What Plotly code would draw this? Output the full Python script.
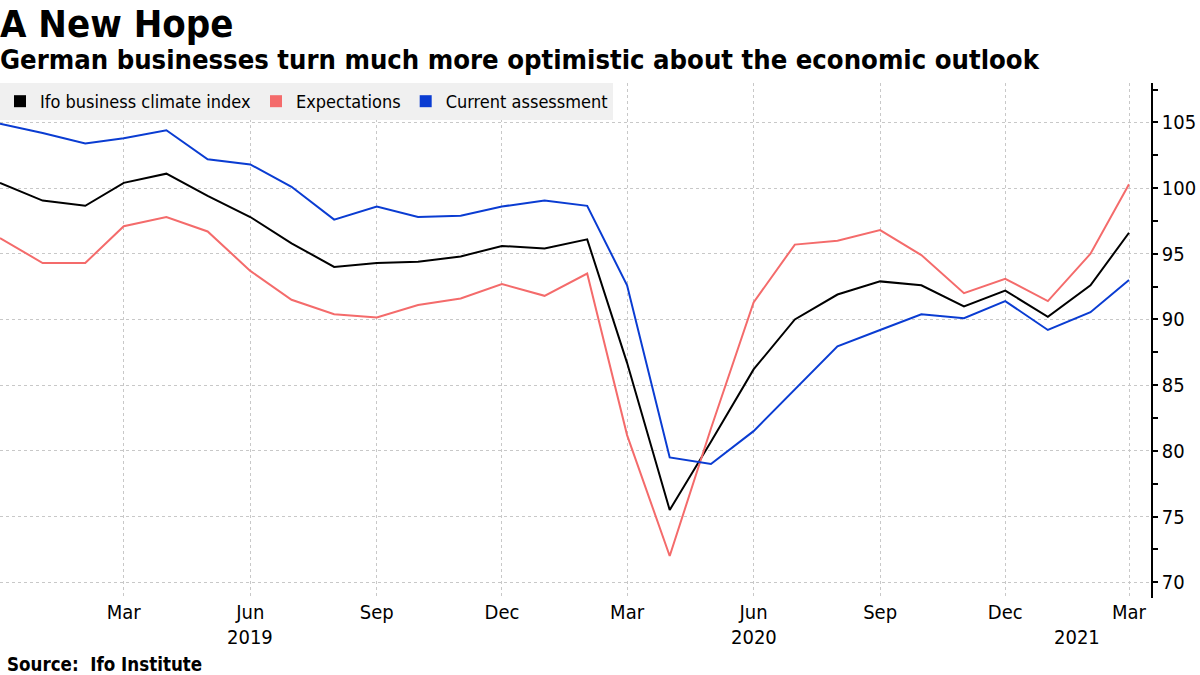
import plotly.graph_objects as go

months = [
    "2018-12-01",
    "2019-01-01", "2019-02-01", "2019-03-01", "2019-04-01", "2019-05-01", "2019-06-01",
    "2019-07-01", "2019-08-01", "2019-09-01", "2019-10-01", "2019-11-01", "2019-12-01",
    "2020-01-01", "2020-02-01", "2020-03-01", "2020-04-01", "2020-05-01", "2020-06-01",
    "2020-07-01", "2020-08-01", "2020-09-01", "2020-10-01", "2020-11-01", "2020-12-01",
    "2021-01-01", "2021-02-01", "2021-03-01",
]

climate = [100.4, 99.05, 98.65, 100.4, 101.1, 99.4, 97.8, 95.8, 94.0, 94.3, 94.4, 94.8, 95.6,
           95.4, 96.1, 86.7, 75.5, 80.7, 86.2, 90.0, 91.9, 92.9, 92.6, 91.0, 92.2,
           90.2, 92.6, 96.6]
expectations = [96.2, 94.3, 94.3, 97.1, 97.8, 96.7, 93.7, 91.5, 90.4, 90.15, 91.1, 91.6, 92.7,
                91.8, 93.5, 81.2, 72.0, 81.7, 91.3, 95.7, 96.0, 96.8, 94.9, 92.0, 93.1,
                91.4, 95.0, 100.3]
current = [104.9, 104.2, 103.4, 103.8, 104.4, 102.2, 101.8, 100.1, 97.6, 98.6, 97.8, 97.9, 98.6,
           99.05, 98.65, 92.6, 79.5, 79.0, 81.5, 84.65, 87.95, 89.2, 90.4, 90.1, 91.4,
           89.2, 90.55, 93.0]

series_names = ["Ifo business climate index", "Expectations", "Current assessment"]
series_colors = ["#000000", "#f46b6b", "#0a3cd2"]

tick_dates = ["2018-12-01", "2019-03-01", "2019-06-01", "2019-09-01", "2019-12-01",
              "2020-03-01", "2020-06-01", "2020-09-01", "2020-12-01", "2021-03-01"]
tick_text = ["", "Mar", "Jun", "Sep", "Dec", "Mar", "Jun", "Sep", "Dec", "Mar"]
year_labels = ["2019", "2020", "2021"]
year_pos = ["2019-06-01", "2020-06-01", "2021-01-22"]
y_ticks = [70, 75, 80, 85, 90, 95, 100, 105]
y_minor = [72.5, 77.5, 82.5, 87.5, 92.5, 97.5, 102.5, 107.5]

title_text = "A New Hope"
subtitle_text = "German businesses turn much more optimistic about the economic outlook"
source_text = "Source:  Ifo Institute"

FONT = "DejaVu Sans Condensed, DejaVu Sans, sans-serif"

fig = go.Figure()
for name, vals, col in zip(series_names, [climate, expectations, current], series_colors):
    fig.add_trace(go.Scatter(x=months, y=vals, mode="lines", line=dict(color=col, width=2),
                             showlegend=False, hoverinfo="skip"))
for name, col in zip(series_names, series_colors):
    fig.add_trace(go.Scatter(x=[None], y=[None], mode="markers", name=name,
                             marker=dict(symbol="square", size=12, color=col)))

for lab, pos in zip(year_labels, year_pos):
    fig.add_annotation(x=pos, xref="x", y=0, yref="paper", yanchor="middle", yshift=-39,
                       text=lab, showarrow=False, font=dict(family=FONT, size=20, color="#000"))

fig.add_annotation(x=0, xref="paper", xanchor="left", xshift=-2, y=1, yref="paper",
                   yanchor="middle", yshift=59, text="<b>" + title_text + "</b>",
                   showarrow=False, font=dict(family=FONT, size=38, color="#000"))
fig.add_annotation(x=0, xref="paper", xanchor="left", xshift=-2, y=1, yref="paper",
                   yanchor="middle", yshift=24, text="<b>" + subtitle_text + "</b>",
                   showarrow=False, font=dict(family=FONT, size=27.2, color="#000"))
fig.add_annotation(x=0, xref="paper", xanchor="left", y=0, yref="paper", yanchor="middle",
                   yshift=-66, xshift=5, text="<b>" + source_text + "</b>", showarrow=False,
                   font=dict(family=FONT, size=18.6, color="#000"))

fig.update_layout(
    width=1200, height=675,
    margin=dict(l=0, r=49, t=83, b=77),
    paper_bgcolor="white", plot_bgcolor="white",
    font=dict(family=FONT, size=20, color="#000"),
    legend=dict(orientation="h", x=0, y=1, xanchor="left", yanchor="top",
                bgcolor="#f0f0f0", font=dict(family=FONT, size=18, color="#000"),
                itemwidth=30, tracegroupgap=0),
    xaxis=dict(type="date", range=["2018-12-01", "2021-03-17"],
               tickmode="array", tickvals=tick_dates, ticktext=tick_text,
               showgrid=True, gridcolor="#c8c8c8", griddash="dot", gridwidth=1,
               showline=False, zeroline=False, ticks="",
               tickfont=dict(family=FONT, size=20)),
    yaxis=dict(side="right", range=[68.8, 108.0], tickmode="array", tickvals=y_ticks,
               showgrid=True, gridcolor="#c8c8c8", griddash="dot", gridwidth=1,
               showline=True, linecolor="#000", linewidth=1.5, zeroline=False,
               ticks="outside", ticklen=5, tickwidth=2, tickcolor="#000",
               minor=dict(tickvals=y_minor, ticks="outside", ticklen=5,
                          tickcolor="#000", showgrid=False),
               tickfont=dict(family=FONT, size=20)),
)

fig.write_html("out.html", config={"displayModeBar": False},
               post_script="document.body.style.margin='0px';")
